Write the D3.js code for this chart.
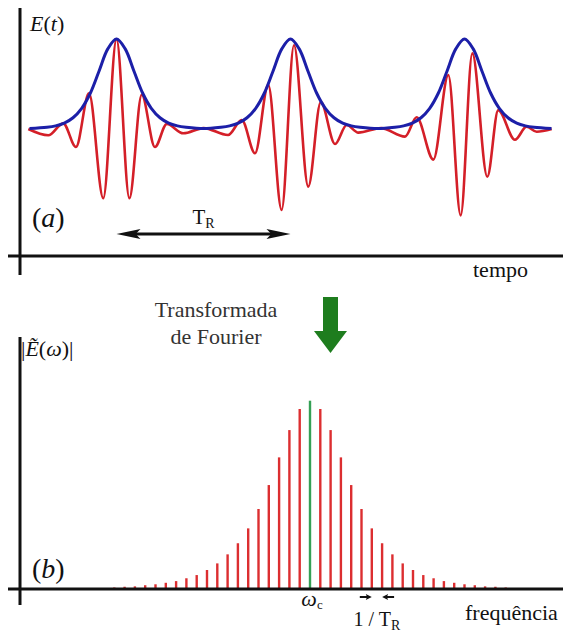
<!DOCTYPE html>
<html>
<head>
<meta charset="utf-8">
<script src="https://cdn.jsdelivr.net/npm/d3@7"></script>
<style>
  html, body { margin: 0; padding: 0; background: #fff; }
  svg { display: block; }
  text { font-family: "Liberation Serif", "DejaVu Serif", serif; }
</style>
</head>
<body>
<svg id="chart" width="563" height="639"></svg>
<script>
// ---- (a) pulse train in time: carrier extrema (time in units of T_R, field normalised to the peak)
const carrierTimes = [
  -0.507, -0.392, -0.306, -0.233, -0.158, -0.076, 0.000, 0.074, 0.145, 0.221, 0.289, 0.384,
   0.500,  0.641,  0.720,  0.796,  0.872,  0.949, 1.020, 1.102, 1.174, 1.256, 1.323, 1.390,
   1.520,  1.658,  1.725,  1.821,  1.907,  1.978, 2.045, 2.131, 2.194, 2.290, 2.357, 2.415, 2.501
];
const carrierValues = [
   0.000, -0.070,  0.063, -0.200,  0.397, -0.770,  1.000, -0.770,  0.380, -0.200,  0.056, -0.048,
   0.010, -0.067,  0.100, -0.270,  0.490, -0.900,  0.930, -0.640,  0.300, -0.167,  0.044, -0.040,
   0.010, -0.085,  0.130, -0.340,  0.600, -0.960,  0.840, -0.530,  0.210, -0.120,  0.026, -0.030, 0.000
];

// envelope of a single pulse: offset from the pulse centre and height
const envelopeOffsets = [-0.5, -0.4, -0.35, -0.3, -0.25, -0.2, -0.15, -0.1, -0.05, 0,
                          0.05, 0.1, 0.15, 0.2, 0.25, 0.3, 0.35, 0.4, 0.5];
const envelopeHeights = [0.005, 0.02, 0.035, 0.065, 0.125, 0.23, 0.40, 0.645, 0.89, 1,
                         0.89, 0.645, 0.40, 0.23, 0.125, 0.065, 0.035, 0.02, 0.005];
const pulseCentres = [0, 1, 2];

// ---- (b) frequency comb: mode number relative to the carrier ω_c and amplitude
const modeNumbers = [-19, -18, -17, -16, -15, -14, -13, -12, -11, -10, -9, -8, -7, -6, -5, -4, -3, -2, -1,
                      0, 1, 2, 3, 4, 5, 6, 7, 8, 9, 10, 11, 12, 13, 14, 15, 16, 17, 18, 19];
const modeAmplitudes = [0.008, 0.012, 0.014, 0.020, 0.025, 0.033, 0.042, 0.057, 0.074, 0.101,
                        0.136, 0.184, 0.243, 0.322, 0.425, 0.552, 0.699, 0.844, 0.956,
                        1.000,
                        0.956, 0.844, 0.699, 0.552, 0.425, 0.322, 0.243, 0.184, 0.136,
                        0.101, 0.074, 0.057, 0.042, 0.033, 0.025, 0.020, 0.014, 0.012, 0.008];

// labels
const timeLabel = "tempo";
const freqLabel = "frequência";
const fourierLines = ["Transformada", "de Fourier"];

const svg = d3.select("#chart");
const ink = "#111";

// ---------------- panel (a) ----------------
const xTime = d3.scaleLinear().domain([-0.6, 2.6]).range([12.1, 568.9]);
const yField = d3.scaleLinear().domain([0, 1]).range([129, 39]);

// axes
svg.append("line").attr("x1", 20).attr("x2", 20).attr("y1", 8).attr("y2", 275)
  .attr("stroke", ink).attr("stroke-width", 3);
svg.append("line").attr("x1", 8).attr("x2", 563).attr("y1", 256).attr("y2", 256)
  .attr("stroke", ink).attr("stroke-width", 3);

// carrier
const carrier = carrierTimes.map((t, i) => [t, carrierValues[i]]);
svg.append("path")
  .datum(carrier)
  .attr("fill", "none")
  .attr("stroke", "#d41f28")
  .attr("stroke-width", 2.6)
  .attr("stroke-linejoin", "round")
  .attr("d", d3.line().x(d => xTime(d[0])).y(d => yField(d[1])).curve(d3.curveMonotoneX));

// envelope: one profile repeated at every pulse centre
const envelope = [];
pulseCentres.forEach((c, p) => {
  envelopeOffsets.forEach((o, i) => {
    if (p > 0 && i === 0) return; // shared point with the previous pulse
    envelope.push([c + o, envelopeHeights[i]]);
  });
});
svg.append("path")
  .datum(envelope)
  .attr("fill", "none")
  .attr("stroke", "#1c1fa8")
  .attr("stroke-width", 3)
  .attr("d", d3.line().x(d => xTime(d[0])).y(d => yField(d[1])).curve(d3.curveCatmullRom));

// E(t)
const eLabel = svg.append("text").attr("x", 30).attr("y", 31).attr("font-size", 22).attr("fill", ink);
eLabel.append("tspan").attr("font-style", "italic").text("E");
eLabel.append("tspan").text("(");
eLabel.append("tspan").attr("font-style", "italic").text("t");
eLabel.append("tspan").text(")");

// (a)
const aLabel = svg.append("text").attr("x", 32).attr("y", 227).attr("font-size", 28).attr("fill", ink);
aLabel.append("tspan").text("(");
aLabel.append("tspan").attr("font-style", "italic").text("a");
aLabel.append("tspan").text(")");

// double arrow marking the repetition period
function arrowHead(g, tipX, y, dir, len, half, color) {
  g.append("path")
    .attr("d", `M${tipX},${y} L${tipX + dir * len},${y - half} L${tipX + dir * len * 0.8},${y} L${tipX + dir * len},${y + half} Z`)
    .attr("fill", color);
}
const arrowY = 234;
const tr0 = xTime(0), tr1 = xTime(1);
svg.append("line").attr("x1", tr0 + 10).attr("x2", tr1 - 10).attr("y1", arrowY).attr("y2", arrowY)
  .attr("stroke", ink).attr("stroke-width", 3);
arrowHead(svg, tr0, arrowY, 1, 24, 5, ink);
arrowHead(svg, tr1, arrowY, -1, 24, 5, ink);

const trLabel = svg.append("text").attr("x", (tr0 + tr1) / 2).attr("y", 224)
  .attr("text-anchor", "middle").attr("font-size", 21).attr("fill", ink);
trLabel.append("tspan").text("T");
trLabel.append("tspan").attr("font-size", 14).attr("dy", 4).text("R");

svg.append("text").attr("x", 473).attr("y", 277).attr("font-size", 22).attr("fill", ink).text(timeLabel);

// ---------------- transition ----------------
svg.append("text").attr("x", 216).attr("y", 317).attr("text-anchor", "middle")
  .attr("font-size", 22).attr("fill", "#333").text(fourierLines[0]);
svg.append("text").attr("x", 216).attr("y", 344).attr("text-anchor", "middle")
  .attr("font-size", 22).attr("fill", "#333").text(fourierLines[1]);

svg.append("path")
  .attr("d", "M323,297 L338,297 L338,331 L347,331 L330.5,353 L314,331 L323,331 Z")
  .attr("fill", "#1e7d1e");

// ---------------- panel (b) ----------------
const xFreq = d3.scaleLinear().domain([-30, 25]).range([1, 567.5]);
const yAmp = d3.scaleLinear().domain([0, 1]).range([589, 400.7]);

svg.append("line").attr("x1", 20).attr("x2", 20).attr("y1", 337).attr("y2", 605)
  .attr("stroke", ink).attr("stroke-width", 3);

// comb teeth
const teeth = modeNumbers.map((n, i) => ({ n, a: modeAmplitudes[i] }));
svg.append("g").selectAll("line")
  .data(teeth)
  .join("line")
  .attr("x1", d => xFreq(d.n)).attr("x2", d => xFreq(d.n))
  .attr("y1", yAmp(0)).attr("y2", d => yAmp(d.a))
  .attr("stroke", d => d.n === 0 ? "#35a055" : "#dc2e30")
  .attr("stroke-width", 2.4);

svg.append("line").attr("x1", 8).attr("x2", 563).attr("y1", 589).attr("y2", 589)
  .attr("stroke", ink).attr("stroke-width", 3);

// |Ẽ(ω)|
const specLabel = svg.append("text").attr("x", 21).attr("y", 356).attr("font-size", 22).attr("fill", ink);
specLabel.append("tspan").text("|");
specLabel.append("tspan").attr("font-style", "italic").text("Ẽ");
specLabel.append("tspan").text("(");
specLabel.append("tspan").attr("font-style", "italic").text("ω");
specLabel.append("tspan").text(")|");

// (b)
const bLabel = svg.append("text").attr("x", 32).attr("y", 578).attr("font-size", 28).attr("fill", ink);
bLabel.append("tspan").text("(");
bLabel.append("tspan").attr("font-style", "italic").text("b");
bLabel.append("tspan").text(")");

// ω_c under the central tooth
const wc = svg.append("text").attr("x", xFreq(0) + 2).attr("y", 606).attr("text-anchor", "middle")
  .attr("font-size", 22).attr("fill", ink);
wc.append("tspan").attr("font-style", "italic").text("ω");
wc.append("tspan").attr("font-size", 13).attr("dy", 3).text("c");

// mode spacing arrows between two neighbouring teeth
const s0 = xFreq(6), s1 = xFreq(7), sy = 597;
svg.append("line").attr("x1", s0 - 12).attr("x2", s0 - 4).attr("y1", sy).attr("y2", sy)
  .attr("stroke", ink).attr("stroke-width", 2);
arrowHead(svg, s0, sy, -1, 6, 3, ink);
svg.append("line").attr("x1", s1 + 4).attr("x2", s1 + 12).attr("y1", sy).attr("y2", sy)
  .attr("stroke", ink).attr("stroke-width", 2);
arrowHead(svg, s1, sy, 1, 6, 3, ink);

const invT = svg.append("text").attr("x", (s0 + s1) / 2).attr("y", 626).attr("text-anchor", "middle")
  .attr("font-size", 20).attr("fill", ink);
invT.append("tspan").text("1 / T");
invT.append("tspan").attr("font-size", 14).attr("dy", 4).text("R");

svg.append("text").attr("x", 465).attr("y", 620).attr("font-size", 22).attr("fill", ink).text(freqLabel);
</script>
</body>
</html>
